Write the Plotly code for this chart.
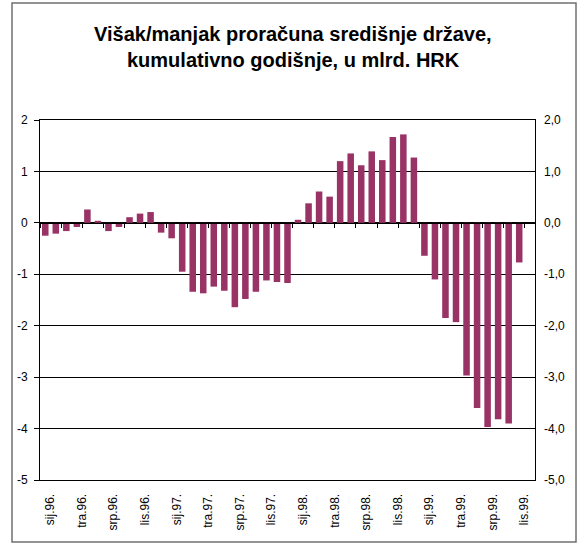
import plotly.graph_objects as go

months = ["sij", "velj", "ožu", "tra", "svi", "lip", "srp", "kol", "ruj", "lis", "stu", "pro"]
years = ["96", "97", "98", "99"]
categories = [f"{m}.{y}." for y in years for m in months][:47]  # Jan 96 - Nov 99

values = [
    -0.25, -0.21, -0.16, -0.08, 0.26, 0.04, -0.16, -0.08, 0.11, 0.18, 0.21, -0.19,
    -0.30, -0.95, -1.34, -1.37, -1.24, -1.32, -1.64, -1.48, -1.34, -1.12, -1.15, -1.17,
    0.06, 0.38, 0.61, 0.51, 1.20, 1.35, 1.12, 1.39, 1.22, 1.67, 1.72, 1.27,
    -0.64, -1.10, -1.85, -1.93, -2.97, -3.60, -3.97, -3.82, -3.90, -0.77, None,
]

tick_labels = categories[::3]
y_ticks = [2, 1, 0, -1, -2, -3, -4, -5]
y_left_text = ["2", "1", "0", "-1", "-2", "-3", "-4", "-5"]
y_right_text = ["2,0", "1,0", "0,0", "-1,0", "-2,0", "-3,0", "-4,0", "-5,0"]

title_lines = ["Višak/manjak proračuna središnje države,", "kumulativno godišnje, u mlrd. HRK"]

W, H = 584, 544
L, R, T, B = 40, 49, 120, 64
pw, ph = W - L - R, H - T - B

fig = go.Figure()
fig.add_trace(go.Bar(x=categories, y=values, marker=dict(color="#993366", line=dict(width=0)),
                     showlegend=False))
# helper trace so the secondary axes render
fig.add_trace(go.Scatter(x=[categories[0]], y=[0], xaxis="x2", yaxis="y2", mode="markers",
                         marker=dict(opacity=0), showlegend=False, hoverinfo="skip"))

FAM = "Liberation Sans, Arial, sans-serif"
font = dict(family=FAM, size=12, color="#000000")


def px2paper_x(px):
    return (px - L) / pw


def px2paper_y(py):
    return (H - B - py) / ph


annotations = []
for i, line in enumerate(title_lines):
    annotations.append(dict(text=f"<b>{line}</b>", x=px2paper_x(293), xref="paper",
                            xanchor="center",
                            y=px2paper_y(34 + 26 * i), yref="paper", yanchor="middle",
                            showarrow=False,
                            font=dict(family=FAM, size=20, color="#000000")))

fig.update_layout(
    width=W, height=H,
    margin=dict(l=L, r=R, t=T, b=B, autoexpand=False),
    paper_bgcolor="white", plot_bgcolor="white",
    bargap=0.38,
    font=font,
    annotations=annotations,
    xaxis=dict(type="category", categoryorder="array", categoryarray=categories,
               range=[-0.5, len(categories) - 0.5],
               tickvals=tick_labels, ticktext=tick_labels, tickangle=-90,
               ticks="", showgrid=False, showline=True, linecolor="#000000", linewidth=1,
               mirror=True, tickfont=font, zeroline=False, fixedrange=True,
               automargin=False, ticklabelstandoff=8, ticklabelshift=5),
    xaxis2=dict(type="category", categoryorder="array", categoryarray=categories,
                range=[-0.5, len(categories) - 0.5], overlaying="x", anchor="free",
                position=5 / 7, showticklabels=False, ticks="outside", ticklen=4,
                tickcolor="#000000", tickson="boundaries", showgrid=False,
                showline=True, linecolor="#000000", linewidth=1, zeroline=False,
                automargin=False),
    yaxis=dict(range=[-5, 2], tickvals=y_ticks, ticktext=y_left_text, ticks="outside",
               ticklen=5, tickcolor="#000000", showgrid=True, gridcolor="#000000",
               gridwidth=1, zeroline=True, zerolinecolor="#000000", zerolinewidth=1,
               showline=True, linecolor="#000000", linewidth=1, mirror=True,
               tickfont=font, ticklabelstandoff=4, fixedrange=True, automargin=False),
    yaxis2=dict(range=[-5, 2], tickvals=y_ticks, ticktext=y_right_text, overlaying="y",
                side="right", anchor="x", ticks="", showgrid=False, zeroline=False,
                showline=False, tickfont=font, ticklabelstandoff=8, fixedrange=True,
                automargin=False),
    shapes=[dict(type="rect", xref="paper", yref="paper",
                 x0=px2paper_x(12), x1=px2paper_x(576),
                 y0=px2paper_y(542), y1=px2paper_y(3),
                 line=dict(color="#707070", width=1.5), fillcolor="rgba(0,0,0,0)",
                 layer="below")],
)

fig.write_html(
    "out.html",
    config={"displayModeBar": False},
    post_script="document.body.style.margin='0';document.body.style.overflow='hidden';",
)
